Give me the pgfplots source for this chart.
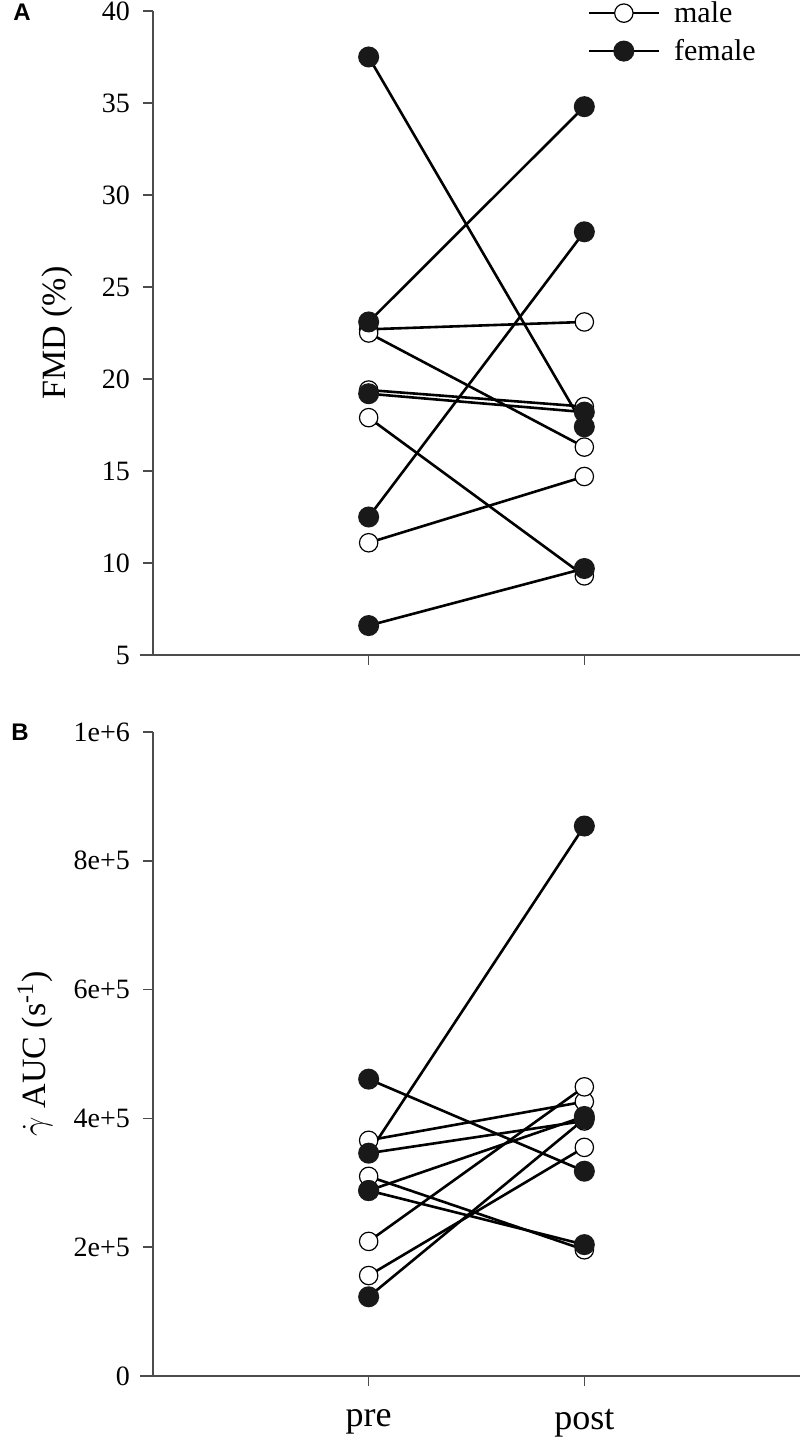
\documentclass[border=0pt]{standalone}
\usepackage{fontspec}
\setmainfont{Liberation Serif}
\newfontfamily\arial{Liberation Sans}
\usepackage{pgfplots}
\pgfplotsset{compat=1.18}
\begin{document}
\begin{tikzpicture}
\pgfplotsset{
 mystyle/.style={
  scale only axis, width=323.5pt, height=322pt,
  axis x line=bottom, axis y line=left,
  axis line style={-, draw=black!70, line width=0.75pt},
  x axis line style={shorten <=-6.5pt},
  xmin=0, xmax=3, xtick={1,2},
  tick align=outside, major tick length=5pt,
  tick style={draw=black!70, line width=0.75pt},
  /pgf/number format/assume math mode=true,
  tick label style={font=\fontsize{14}{16}\selectfont},
  yticklabel style={xshift=-3pt},
  label style={font=\fontsize{17}{20}\selectfont},
  clip=false,
 },
 male/.style={black, line width=1.3pt, mark=*, mark size=4.6pt, mark options={fill=white, draw=black, line width=0.6pt}},
 female/.style={black, line width=1.3pt, mark=*, mark size=4.6pt, mark options={fill=black!90, draw=black!90}},
}
% ---------------- Panel A ----------------
\begin{axis}[mystyle,
  ymin=5, ymax=40, ytick={5,10,15,20,25,30,35,40},
  xticklabels={},
  ylabel={FMD (\%)},
  ylabel style={at={(axis description cs:-0.148,0.5)}, anchor=center},
  legend style={draw=none, fill=none, at={(rel axis cs:0.671,1.022)}, anchor=north west,
    font=\fontsize{15}{17}\selectfont, row sep=3pt, inner sep=0pt,
    /tikz/every odd column/.append style={column sep=5pt}},
  legend cell align=left,
  legend image code/.code={\draw[mark repeat=2,mark phase=2,#1] plot coordinates {(0pt,0pt) (17.5pt,0pt) (35pt,0pt)};},
]
\addlegendimage{male}\addlegendentry{male}
\addlegendimage{female}\addlegendentry{female}
% males
\addplot[male, forget plot] coordinates {(1,22.7) (2,23.1)};
\addplot[male, forget plot] coordinates {(1,22.5) (2,16.3)};
\addplot[male, forget plot] coordinates {(1,19.4) (2,18.5)};
\addplot[male, forget plot] coordinates {(1,17.9) (2,9.3)};
\addplot[male, forget plot] coordinates {(1,11.1) (2,14.7)};
% females
\addplot[female, forget plot] coordinates {(1,37.5) (2,17.4)};
\addplot[female, forget plot] coordinates {(1,23.1) (2,34.8)};
\addplot[female, forget plot] coordinates {(1,19.2) (2,18.2)};
\addplot[female, forget plot] coordinates {(1,12.5) (2,28.0)};
\addplot[female, forget plot] coordinates {(1,6.6) (2,9.7)};
\end{axis}
\node[font=\arial\bfseries\fontsize{12}{14}\selectfont] at (-65.5pt,321.25pt) {A};
% ---------------- Panel B ----------------
\begin{axis}[mystyle, at={(0pt,-360.5pt)},
  ymin=0, ymax=1000000, ytick={0,200000,400000,600000,800000,1000000},
  yticklabels={0,2e+5,4e+5,6e+5,8e+5,1e+6},
  scaled y ticks=false,
  xticklabels={pre,post},
  xticklabel style={font=\fontsize{18}{20}\selectfont, yshift=-8pt},
  ylabel={$\dot{\gamma}$ AUC (s\textsuperscript{-1})},
  ylabel style={at={(axis description cs:-0.182,0.5)}, anchor=center},
]
% males
\addplot[male] coordinates {(1,366000) (2,426000)};
\addplot[male] coordinates {(1,310000) (2,196000)};
\addplot[male] coordinates {(1,209000) (2,449000)};
\addplot[male] coordinates {(1,156000) (2,355000)};
\addplot[male] coordinates {(1,346000) (2,396000)};
% females
\addplot[female] coordinates {(1,461000) (2,318000)};
\addplot[female] coordinates {(1,346000) (2,854000)};
\addplot[female] coordinates {(1,288000) (2,204000)};
\addplot[female] coordinates {(1,288000) (2,403000)};
\addplot[female] coordinates {(1,123000) (2,399000)};
\end{axis}
\node[font=\arial\bfseries\fontsize{12}{14}\selectfont] at (-66.5pt,-38.5pt) {B};
\pgfresetboundingbox
\useasboundingbox (-76.5pt,-394.5pt) rectangle (323.5pt,327.5pt);
\end{tikzpicture}
\end{document}
